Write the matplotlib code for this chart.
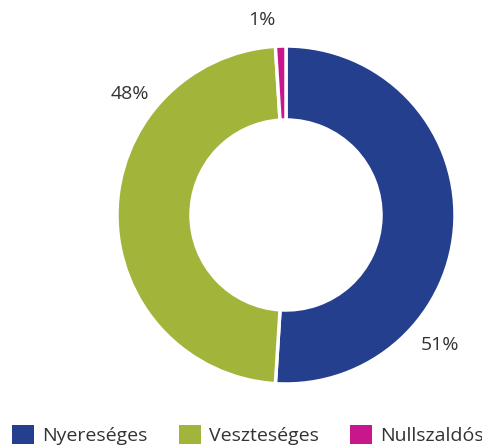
import matplotlib.pyplot as plt
from matplotlib.patches import Patch

# =====================================
# Data
# =====================================
categories = ["Nyereséges", "Veszteséges", "Nullszaldós"]
shares = [51, 48, 1]
colors = ["#253f8f", "#a2b43a", "#c8178c"]

# label anchor points (pixel grid, origin bottom-left)
label_xy = [(440, 101), (130, 352), (262, 426)]

plt.rcParams["font.family"] = ["Open Sans", "DejaVu Sans"]
TEXT_COLOR = "#333333"


def main():
    fig = plt.figure(figsize=(4.82, 4.46), dpi=100)
    ax = fig.add_axes([0, 0, 1, 1])

    ax.pie(
        shares,
        colors=colors,
        startangle=90,
        counterclock=False,
        radius=169,
        center=(286, 231),
        wedgeprops=dict(width=74, edgecolor="white", linewidth=2.5),
        frame=True,
    )
    ax.set_xlim(0, 482)
    ax.set_ylim(0, 446)
    ax.set_aspect("equal")
    ax.axis("off")

    for value, (x, y) in zip(shares, label_xy):
        ax.text(x, y, f"{value}%", ha="center", va="center",
                fontsize=14, color=TEXT_COLOR)

    handles = [Patch(facecolor=c, edgecolor="none") for c in colors]
    fig.legend(
        handles, categories,
        loc="lower left",
        bbox_to_anchor=(12 / 482, 1 / 446),
        ncol=3,
        frameon=False,
        fontsize=14,
        handlelength=1.15,
        handleheight=1.15,
        handletextpad=0.4,
        columnspacing=1.6,
        borderpad=0,
        borderaxespad=0,
        labelcolor=TEXT_COLOR,
    )

    fig.savefig("out.png", dpi=100)
    plt.close(fig)


if __name__ == "__main__":
    main()
